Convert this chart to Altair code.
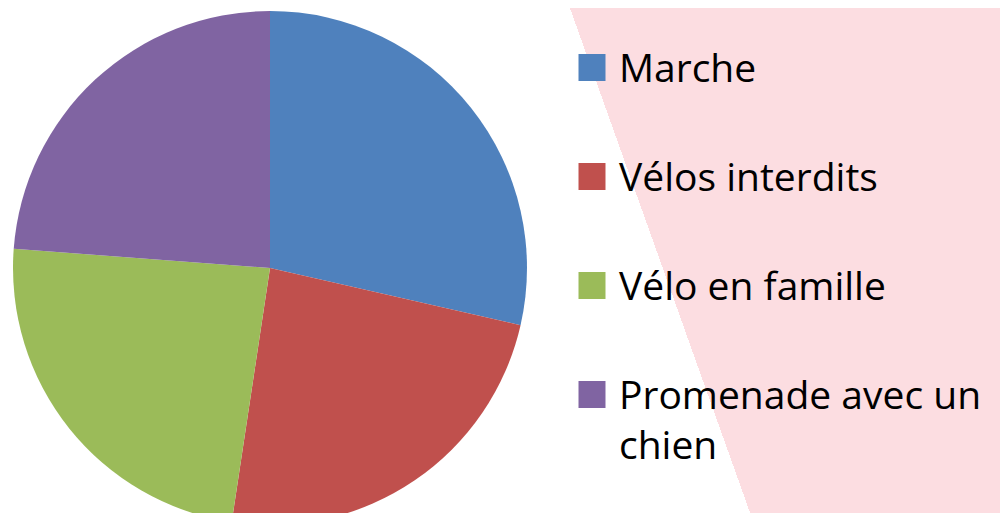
import altair as alt
import pandas as pd

categories = ["Marche", "Vélos interdits", "Vélo en famille", "Promenade avec un chien"]
values = [30, 25, 25, 25]
colors = ["#4F81BD", "#C0504D", "#9BBB59", "#8064A2"]

df = pd.DataFrame({
    "category": categories,
    "value": values,
    "idx": list(range(len(categories))),
})

W, H = 992, 505
PINK = "#FCDDE1"

base = alt.Chart(df)

color_enc = alt.Color(
    "category:N",
    sort=categories,
    scale=alt.Scale(domain=categories, range=colors),
    legend=None,
)
y_enc = alt.Y(
    "category:N",
    sort=categories,
    scale=alt.Scale(type="point", range=[59.5, 386.5], padding=0),
    axis=None,
)

bg = base.mark_rect(
    fill=alt.LinearGradient(
        gradient="linear", x1=0, y1=0, x2=1, y2=-0.1816,
        stops=[
            alt.GradientStop(color="#FFFFFF", offset=0),
            alt.GradientStop(color="#FFFFFF", offset=0.5484),
            alt.GradientStop(color=PINK, offset=0.5484),
            alt.GradientStop(color=PINK, offset=1),
        ],
    )
).encode(x=alt.value(0), x2=alt.value(W), y=alt.value(0), y2=alt.value(H))

pie = base.mark_arc(radius=257).encode(
    theta=alt.Theta("value:Q", stack=True),
    color=color_enc,
    order=alt.Order("idx:Q"),
    x=alt.value(262),
    y=alt.value(260),
)

squares = base.mark_square(size=729, opacity=1).encode(
    x=alt.value(584),
    y=y_enc,
    color=color_enc,
)

labels = base.transform_calculate(
    label="replace(datum.category, 'avec un ', 'avec un\\n')"
).mark_text(
    align="left", baseline="top", dy=-17, fontSize=39, font="Open Sans",
    lineHeight=50, lineBreak="\n", color="#000000",
).encode(
    x=alt.value(611),
    y=y_enc,
    text="label:N",
)

chart = alt.layer(bg, pie, squares, labels).properties(
    width=W, height=H, padding=0, autosize=alt.AutoSizeParams(type="none"),
    background="#FFFFFF",
).configure_view(stroke=None)

chart.save("out.html", embed_options={"renderer": "svg", "actions": False})
